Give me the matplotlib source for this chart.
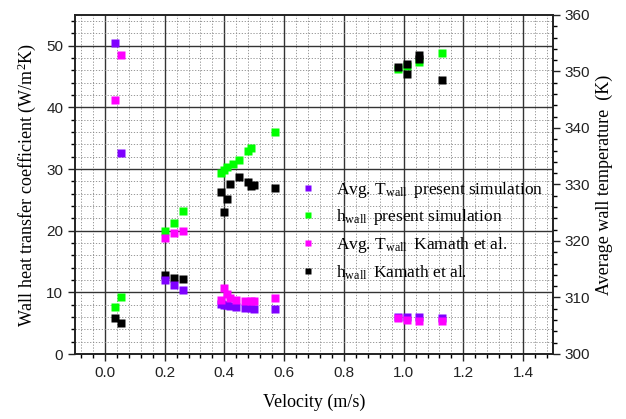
import matplotlib
matplotlib.use("Agg")
import matplotlib.pyplot as plt
from matplotlib.ticker import MultipleLocator
from matplotlib.lines import Line2D

# ---- data ----
v_T_sim = [0.033, 0.054, 0.20, 0.23, 0.26, 0.39, 0.40, 0.41, 0.42, 0.44, 0.47, 0.49, 0.50, 0.57, 0.98, 1.01, 1.05, 1.13]
T_sim = [355.0, 335.5, 313.1, 312.2, 311.3, 308.8, 308.7, 308.6, 308.5, 308.4, 308.2, 308.1, 308.0, 308.0, 306.6, 306.6, 306.5, 306.3]

v_h_sim = [0.033, 0.054, 0.20, 0.23, 0.26, 0.39, 0.40, 0.41, 0.43, 0.45, 0.48, 0.49, 0.57, 0.98, 1.01, 1.05, 1.13]
h_sim = [7.6, 9.3, 20.0, 21.3, 23.2, 29.4, 29.9, 30.4, 30.9, 31.4, 33.0, 33.5, 36.0, 46.2, 46.8, 47.4, 48.9]

v_T_kam = [0.033, 0.054, 0.20, 0.23, 0.26, 0.39, 0.40, 0.41, 0.42, 0.44, 0.47, 0.49, 0.50, 0.57, 0.98, 1.01, 1.05, 1.13]
T_kam = [345.0, 352.9, 320.5, 321.5, 321.8, 309.6, 311.6, 310.6, 309.9, 309.5, 309.3, 309.4, 309.4, 309.9, 306.3, 306.0, 305.9, 305.8]

v_h_kam = [0.033, 0.054, 0.20, 0.23, 0.26, 0.39, 0.40, 0.41, 0.42, 0.45, 0.48, 0.49, 0.50, 0.57, 0.98, 1.01, 1.01, 1.05, 1.05, 1.13]
h_kam = [5.9, 5.0, 12.8, 12.4, 12.1, 26.3, 23.1, 25.1, 27.6, 28.7, 27.9, 27.3, 27.4, 27.0, 46.6, 45.5, 47.1, 47.9, 48.5, 44.5]

labels = [r"Avg. T$_{\rm wall}$$\;\;$present simulation",
          r"h$_{\rm wall}$$\;\;$present simulation",
          r"Avg. T$_{\rm wall}$$\;\;$Kamath et al.",
          r"h$_{\rm wall}$$\;\;$Kamath et al."]
colors = ["#7f00ff", "#00ff00", "#ff00ff", "#000000"]

plt.rcParams["mathtext.fontset"] = "custom"
plt.rcParams["mathtext.rm"] = "Liberation Serif"
plt.rcParams["mathtext.it"] = "Liberation Serif:italic"

fig = plt.figure(figsize=(6.26, 4.19), dpi=100)
ax = fig.add_axes([75/626, 1-354/419, (553-75)/626, (354-15)/419])
ax2 = ax.twinx()

ms = 6
ax.plot(v_h_sim, h_sim, "s", color=colors[1], ms=ms, mec="none", zorder=3)
ax.plot(v_h_kam, h_kam, "s", color=colors[3], ms=ms, mec="none", zorder=3)
ax2.plot(v_T_sim, T_sim, "s", color=colors[0], ms=ms, mec="none", zorder=3)
ax2.plot(v_T_kam, T_kam, "s", color=colors[2], ms=ms, mec="none", zorder=3)

ax.set_xlim(-0.1, 1.5)
ax.set_ylim(0, 55)
ax2.set_ylim(300, 360)

ax.xaxis.set_major_locator(MultipleLocator(0.2))
ax.xaxis.set_minor_locator(MultipleLocator(0.04))
ax.yaxis.set_major_locator(MultipleLocator(10))
ax.yaxis.set_minor_locator(MultipleLocator(2))
ax2.yaxis.set_major_locator(MultipleLocator(10))
ax2.yaxis.set_minor_locator(MultipleLocator(2))

ax.grid(which="major", color="#333333", lw=1.0, ls="-")
ax.grid(which="minor", color="#888888", lw=0.6, ls=(0, (1.5, 2)))
ax.set_axisbelow(True)

tickfont = "Liberation Sans"
for a in (ax, ax2):
    a.tick_params(which="major", direction="out", length=5, width=1, labelsize=11, colors="#222222")
    a.tick_params(which="minor", direction="out", length=3, width=1)
    for lab in a.get_xticklabels() + a.get_yticklabels():
        lab.set_fontfamily(tickfont)
    for s in a.spines.values():
        s.set_linewidth(1.2)
        s.set_color("#222222")
ax.set_xticks([0.0, 0.2, 0.4, 0.6, 0.8, 1.0, 1.2, 1.4])
ax.set_xticklabels(["0.0", "0.2", "0.4", "0.6", "0.8", "1.0", "1.2", "1.4"], fontfamily=tickfont)

ax.set_xlabel("Velocity (m/s)", fontfamily="Liberation Serif", fontsize=13, labelpad=10)
ax.set_ylabel(r"Wall heat transfer coefficient (W/m$^{\rm 2}$K)", fontfamily="Liberation Serif", fontsize=13, labelpad=6)
ax2.set_ylabel("Average wall temperature  (K)", fontfamily="Liberation Serif", fontsize=13, labelpad=4)

handles = [Line2D([], [], ls="none", marker="s", color=c, ms=4.5, mec="none") for c in colors]
leg = ax2.legend(handles, labels, loc="center left", bbox_to_anchor=(0.47, 0.364),
                 frameon=False, handlelength=1.0, handletextpad=1.1, labelspacing=0.45,
                 borderaxespad=0, borderpad=0,
                 prop={"family": "Liberation Serif", "size": 12.5})

fig.savefig("out.png", dpi=100)
